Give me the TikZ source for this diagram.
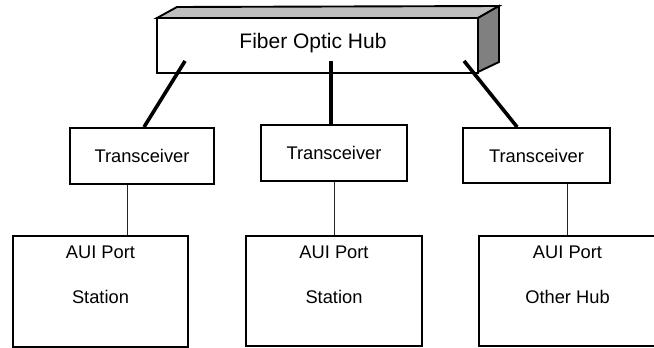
\documentclass[tikz,border=0pt]{standalone}
\usepackage{fontspec}
\setmainfont{Liberation Sans}
\usetikzlibrary{calc}
\begin{document}
\begin{tikzpicture}[x=1pt,y=-1pt,
  box/.style={draw, line width=1.9pt, fill=white, inner sep=0pt},
  label/.style={inner sep=0pt, font=\fontsize{18.3}{21}\selectfont},
  link/.style={line width=3.6pt},
  wire/.style={line width=1pt, draw=black!85},
  face/.style={draw, line width=1.9pt, line join=miter}]
\useasboundingbox (0,0) rectangle (654,348);

% hub drawn as a block: top and side faces, then the front face
\draw[face, fill=black!25] (157,18) -- (177,7) -- (499,6) -- (478,18) -- cycle;
\draw[face, fill=black!50] (478,18) -- (499,6) -- (499,62) -- (478,72) -- cycle;
\node[box, minimum width=321pt, minimum height=55pt] (hub) at (317.5,45.5) {};
\node[label, font=\fontsize{21}{25}\selectfont] (hubtxt) at (313,43) {Fiber Optic Hub};

% transceivers
\node[box, label, minimum width=144pt, minimum height=56pt] (t1) at (142,156) {Transceiver};
\node[box, label, minimum width=146pt, minimum height=56pt] (t2) at (334,153) {Transceiver};
\node[box, label, minimum width=147pt, minimum height=55pt] (t3) at (536.5,155.5) {Transceiver};

% attached devices
\node[box, minimum width=175pt, minimum height=111pt] (s1) at (100.5,291.5) {};
\node[box, minimum width=176pt, minimum height=110pt] (s2) at (334,291) {};
\node[box, minimum width=177pt, minimum height=110pt] (s3) at (567.5,291) {};
\node[label] (p1) at ($(s1.north)+(0,17)$) {AUI Port};
\node[label] (n1) at ($(s1.north)+(0,62)$) {Station};
\node[label] (p2) at ($(s2.north)+(0,17)$) {AUI Port};
\node[label] (n2) at ($(s2.north)+(0,62)$) {Station};
\node[label] (p3) at ($(s3.north)+(0,17)$) {AUI Port};
\node[label] (n3) at ($(s3.north)+(0,62)$) {Other Hub};

% fiber links from the hub
\coordinate (h1) at ($(hub.south west)+(29,-13)$);
\coordinate (h2) at ($(hub.south west)+(175,-13)$);
\coordinate (h3) at ($(hub.south west)+(308,-13)$);
\draw[link] (h1) -- ($(t1.north)+(2,0)$);
\draw[link] (h2) -- (h2 |- t2.north);
\draw[link] (h3) -- ($(t3.north west)!0.37!(t3.north east)$);

% AUI cables
\coordinate (w1) at ($(t1.south west)!0.4!(t1.south east)$);
\coordinate (w3) at ($(t3.south west)!0.707!(t3.south east)$);
\draw[wire] (w1) -- (w1 |- s1.north);
\draw[wire] (t2.south) -- (s2.north);
\draw[wire] (w3) -- (w3 |- s3.north);
\end{tikzpicture}
\end{document}
